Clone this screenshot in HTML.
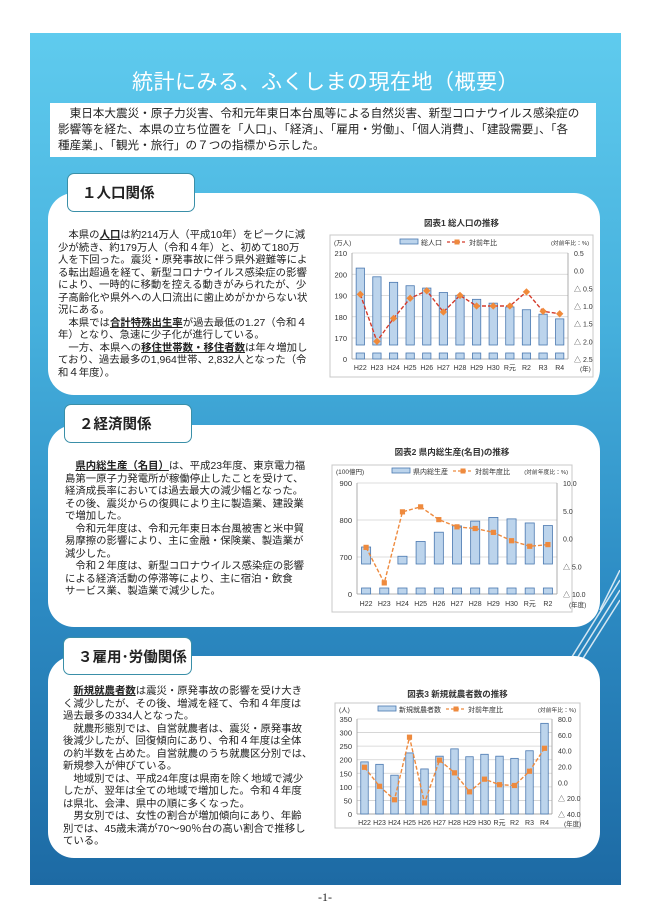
<!DOCTYPE html>
<html lang="ja"><head><meta charset="utf-8">
<style>
*{margin:0;padding:0;box-sizing:border-box}
body{width:650px;height:919px;background:#fff;position:relative;overflow:hidden;font-family:"Liberation Sans","Noto Sans CJK JP",sans-serif;color:#222}
.abs{position:absolute}
#panel{left:30px;top:33px;width:591px;height:852px;background:linear-gradient(180deg,#5fcbee 0%,#45afdc 35%,#2d8cc4 65%,#1d6aa4 100%)}
#title{left:30px;top:66px;width:591px;text-align:center;color:#fff;font-size:21px;letter-spacing:0.5px}
#intro{left:50px;top:103px;width:546px;height:54px;background:#fff;font-size:11.6px;line-height:16px;padding:3px 0 0 8px;white-space:nowrap}
.card{left:48px;width:552px;background:#fff;border-radius:26px}
.tab{background:#fff;border:1.5px solid #3a8fa8;border-radius:7px;font-size:14.5px;font-weight:bold;padding-left:14px;display:flex;align-items:center}
.txt{font-size:10.4px;line-height:12.5px;white-space:nowrap}
.txt b{text-decoration:underline}
svg text{font-family:"Liberation Sans","Noto Sans CJK JP",sans-serif}
</style></head><body>
<div id="panel" class="abs"></div>
<svg class="abs" style="left:560px;top:570px" width="60" height="90">
<g stroke="#fff" stroke-width="1.5" opacity="0.8"><line x1="60" y1="10" x2="10" y2="90"/><line x1="60" y1="20" x2="16" y2="90"/><line x1="60" y1="30" x2="22" y2="90"/><line x1="60" y1="0" x2="40" y2="40"/></g></svg>
<div id="title" class="abs">統計にみる、ふくしまの現在地（概要）</div>
<div id="intro" class="abs">
<div>　東日本大震災・原子力災害、令和元年東日本台風等による自然災害、新型コロナウイルス感染症の</div>
<div>影響等を経た、本県の立ち位置を「人口」、「経済」、「雇用・労働」、「個人消費」、「建設需要」、「各</div>
<div>種産業」、「観光・旅行」の７つの指標から示した。</div></div>

<div class="abs card" style="top:193px;height:202px"></div>
<div class="abs tab" style="left:67px;top:173px;width:128px;height:39px">１人口関係</div>
<div class="abs txt" style="left:58px;top:230px">
<div>　本県の<b>人口</b>は約214万人（平成10年）をピークに減</div>
<div>少が続き、約179万人（令和４年）と、初めて180万</div>
<div>人を下回った。震災・原発事故に伴う県外避難等によ</div>
<div>る転出超過を経て、新型コロナウイルス感染症の影響</div>
<div>により、一時的に移動を控える動きがみられたが、少</div>
<div>子高齢化や県外への人口流出に歯止めがかからない状</div>
<div>況にある。</div>
<div>　本県では<b>合計特殊出生率</b>が過去最低の1.27（令和４</div>
<div>年）となり、急速に少子化が進行している。</div>
<div>　一方、本県への<b>移住世帯数・移住者数</b>は年々増加し</div>
<div>ており、過去最多の1,964世帯、2,832人となった（令</div>
<div>和４年度）。</div></div>

<div class="abs card" style="top:425px;height:202px"></div>
<div class="abs tab" style="left:64px;top:404px;width:128px;height:39px">２経済関係</div>
<div class="abs txt" style="left:65px;top:461px">
<div>　<b>県内総生産（名目）</b>は、平成23年度、東京電力福</div>
<div>島第一原子力発電所が稼働停止したことを受けて、</div>
<div>経済成長率においては過去最大の減少幅となった。</div>
<div>その後、震災からの復興により主に製造業、建設業</div>
<div>で増加した。</div>
<div>　令和元年度は、令和元年東日本台風被害と米中貿</div>
<div>易摩擦の影響により、主に金融・保険業、製造業が</div>
<div>減少した。</div>
<div>　令和２年度は、新型コロナウイルス感染症の影響</div>
<div>による経済活動の停滞等により、主に宿泊・飲食</div>
<div>サービス業、製造業で減少した。</div></div>

<div class="abs card" style="top:656px;height:202px"></div>
<div class="abs tab" style="left:63px;top:637px;width:129px;height:38px">３雇用･労働関係</div>
<div class="abs txt" style="left:63px;top:686px">
<div>　<b>新規就農者数</b>は震災・原発事故の影響を受け大き</div>
<div>く減少したが、その後、増減を経て、令和４年度は</div>
<div>過去最多の334人となった。</div>
<div>　就農形態別では、自営就農者は、震災・原発事故</div>
<div>後減少したが、回復傾向にあり、令和４年度は全体</div>
<div>の約半数を占めた。自営就農のうち就農区分別では、</div>
<div>新規参入が伸びている。</div>
<div>　地域別では、平成24年度は県南を除く地域で減少</div>
<div>したが、翌年は全ての地域で増加した。令和４年度</div>
<div>は県北、会津、県中の順に多くなった。</div>
<div>　男女別では、女性の割合が増加傾向にあり、年齢</div>
<div>別では、45歳未満が70～90％台の高い割合で推移し</div>
<div>ている。</div></div>

<div class="abs" style="left:0;top:890px;width:650px;text-align:center;font-size:12px;font-family:'Liberation Serif',serif">-1-</div>

<svg id="chart" class="abs" style="left:0;top:0" width="650" height="919"></svg>

<script>
// Chart 1: total population
const cats1 = ["H22","H23","H24","H25","H26","H27","H28","H29","H30","R元","R2","R3","R4"];
const pop1 = [202.9,198.8,196.2,194.6,193.5,191.4,190.1,188.2,186.4,184.6,183.3,181.2,179.0];
const rate1 = [-0.67,-2.0,-1.35,-0.78,-0.57,-1.17,-0.7,-1.0,-1.0,-1.0,-0.6,-1.15,-1.22];
const leftTicks1 = [210,200,190,180,170];
const rightTicks1 = [0.5,0.0,-0.5,-1.0,-1.5,-2.0,-2.5];
// Chart 2: prefectural GDP
const cats2 = ["H22","H23","H24","H25","H26","H27","H28","H29","H30","R元","R2"];
const gdp2 = [727,670,702,742,767,784,797,807,803,792,785];
const rate2 = [-1.6,-8.0,4.8,5.7,3.4,2.1,1.8,1.1,-0.4,-1.4,-1.1];
const leftTicks2 = [900,800,700];
const rightTicks2 = [10,5,0,-5,-10];
// Chart 3: new farmers
const cats3 = ["H22","H23","H24","H25","H26","H27","H28","H29","H30","R元","R2","R3","R4"];
const farm3 = [192,183,143,225,166,213,240,211,220,213,205,233,334];
const rate3 = [19,-5,-22,57,-26,28,12,-12,4,-3,-4,14,43];
const leftTicks3 = [350,300,250,200,150,100,50,0];
const rightTicks3 = [80,60,40,20,0,-20,-40];

const svg = document.getElementById('chart');
const NS = 'http://www.w3.org/2000/svg';
function mk(tag, attrs, parent){const e=document.createElementNS(NS,tag);for(const k in attrs)e.setAttribute(k,attrs[k]);(parent||svg).appendChild(e);return e;}
function tx(x,y,s,size,anchor,parent,weight){const t=mk('text',{x:x,y:y,'font-size':size,'text-anchor':anchor||'start',fill:'#333','font-weight':weight||'normal'},parent);t.textContent=s;return t;}
function fmtR(v,dec){const a=Math.abs(v).toFixed(dec);return v<0?'△ '+a:a;}

function drawChart(o){
  const g=mk('g',{});
  
  
  mk('rect',{x:o.box[0],y:o.box[1],width:o.box[2],height:o.box[3],fill:'#fff',stroke:'#c8c8c8','stroke-width':1},g);
  const title=tx((o.box[0]+o.box[0]+o.box[2])/2,o.titleY,o.title,8.5,'middle',g,'bold');
  
  
  const n=o.cats.length, step=(o.right-o.left)/n, bw=step*0.5;
  const yL=v=> (o.brk && v<o.yMin)? o.bottom : o.top+(o.yMax-v)/(o.yMax-o.yMin)*(o.lowY-o.top);
  const yR=r=> o.top+(o.rMax-r)/(o.rMax-o.rMin)*(o.bottom-o.top);
  const xC=i=> o.left+step*(i+0.5);
  o.lt.forEach(v=>{const y=yL(v);
    const gl=mk('line',{x1:o.left,x2:o.right,y1:y,y2:y,stroke:'#d0d0d0','stroke-width':0.8},g);
    
    
    tx(o.left-5,y+3,String(v),7.5,'end',g);});
  if(o.brk){tx(o.left-5,o.bottom+3,'0',7.5,'end',g);}
  o.rt.forEach(r=>{tx(o.right+6,yR(r)+3,fmtR(r,1),7,'start',g);});
  mk('line',{x1:o.left,x2:o.left,y1:o.top,y2:o.bottom,stroke:'#999','stroke-width':0.8},g);
  mk('line',{x1:o.right,x2:o.right,y1:o.top,y2:o.bottom,stroke:'#999','stroke-width':0.8},g);
  mk('line',{x1:o.left,x2:o.right,y1:o.bottom,y2:o.bottom,stroke:'#999','stroke-width':0.8},g);
  o.bars.forEach((v,i)=>{
    const x=xC(i)-bw/2, y=yL(v);
    const yb=o.brk? o.lowY+7 : o.bottom;
    const b=mk('rect',{x:x,y:y,width:bw,height:yb-y,fill:'#bcd4ec',stroke:'#4a78b0','stroke-width':0.8},g);
    
    
    if(o.brk){const s=mk('rect',{x:x,y:o.bottom-6,width:bw,height:6,fill:'#bcd4ec',stroke:'#4a78b0','stroke-width':0.8},g);
      
      }
    tx(xC(i),o.labY,o.cats[i],7,'middle',g);
  });
  tx(o.right+12,o.labY+1,o.unitX,6.5,'start',g);
  const pts=o.rate.map((r,i)=>xC(i)+','+yR(r)).join(' ');
  const pl=mk('polyline',{points:pts,fill:'none',stroke:o.lc,'stroke-width':1.4,'stroke-dasharray':'4,2'},g);
  
  
  o.rate.forEach((r,i)=>{const x=xC(i),y=yR(r);let m;
    if(o.diamond) m=mk('rect',{x:x-2.6,y:y-2.6,width:5.2,height:5.2,fill:'#f08a3a',transform:'rotate(45 '+x+' '+y+')'},g);
    else m=mk('rect',{x:x-2.6,y:y-2.6,width:5.2,height:5.2,fill:'#ee8a3e'},g);
    
    });
  tx(o.box[0]+4,o.legY,o.unitL,6.5,'start',g);
  tx(o.box[0]+o.box[2]-4,o.legY,o.unitR,5.8,'end',g);
  const lx=o.legX;
  mk('rect',{x:lx,y:o.legY-6,width:18,height:5,fill:'#bcd4ec',stroke:'#4a78b0','stroke-width':0.8},g);
  tx(lx+21,o.legY,o.leg1,7,'start',g);
  const l2=lx+21+o.leg1.length*7+5;
  mk('line',{x1:l2,x2:l2+20,y1:o.legY-3,y2:o.legY-3,stroke:o.lc,'stroke-width':1.3,'stroke-dasharray':'3,2'},g);
  mk('rect',{x:l2+7.5,y:o.legY-5.5,width:5,height:5,fill:'#ee8a3e'},g);
  tx(l2+22,o.legY,o.leg2,7,'start',g);
}

drawChart({name:'population-chart',title:'図表1  総人口の推移',titleY:226,box:[330,235,263,142],
  left:352,right:568,top:253,bottom:359,lowY:338,brk:true,yMax:210,yMin:170,rMax:0.5,rMin:-2.5,
  cats:cats1,bars:pop1,rate:rate1,lt:leftTicks1,rt:rightTicks1,labY:370,unitX:'(年)',lc:'#d43a2a',diamond:true,
  legY:245,legX:400,leg1:'総人口',leg2:'対前年比',unitL:'(万人)',unitR:'(対前年比：%)'});
drawChart({name:'gdp-chart',title:'図表2  県内総生産(名目)の推移',titleY:455,box:[332,465,240,147],
  left:357,right:557,top:483,bottom:594,lowY:557,brk:true,yMax:900,yMin:700,rMax:10,rMin:-10,
  cats:cats2,bars:gdp2,rate:rate2,lt:leftTicks2,rt:rightTicks2,labY:606,unitX:'(年度)',lc:'#ee8a3e',diamond:false,
  legY:474,legX:392,leg1:'県内総生産',leg2:'対前年度比',unitL:'(100億円)',unitR:'(対前年度比：%)'});
drawChart({name:'new-farmers-chart',title:'図表3  新規就農者数の推移',titleY:697,box:[335,703,245,125],
  left:357,right:552,top:719,bottom:814,lowY:814,brk:false,yMax:350,yMin:0,rMax:80,rMin:-40,
  cats:cats3,bars:farm3,rate:rate3,lt:leftTicks3,rt:rightTicks3,labY:825,unitX:'(年度)',lc:'#ee8a3e',diamond:false,
  legY:712,legX:378,leg1:'新規就農者数',leg2:'対前年度比',unitL:'(人)',unitR:'(対前年比：%)'});
</script>
</body></html>
